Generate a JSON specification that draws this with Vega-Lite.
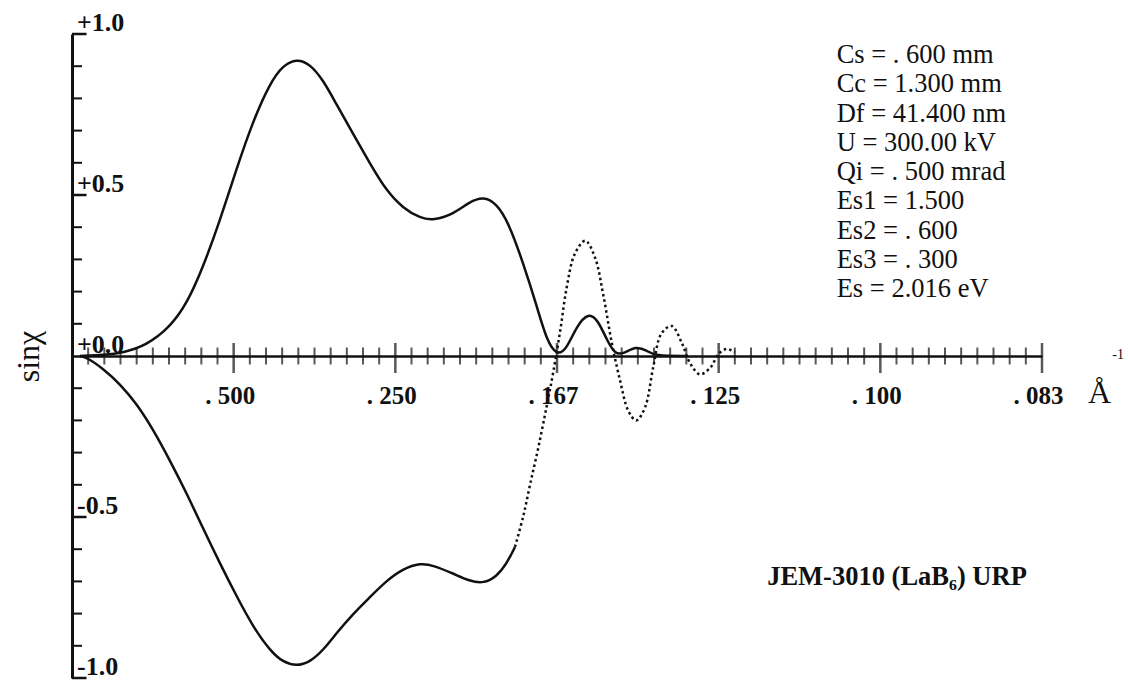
{
  "$schema": "https://vega.github.io/schema/vega-lite/v6.json",
  "width": 970,
  "height": 644,
  "autosize": "none",
  "padding": {"left": 72, "top": 34, "right": 86, "bottom": 2},
  "background": "white",
  "config": {"view": {"stroke": null}, "font": "Liberation Serif"},
  "datasets": {
    "minorX": [
      {"f": 0.2}, {"f": 0.4}, {"f": 0.6}, {"f": 0.8}, {"f": 1.0}, {"f": 1.2}, {"f": 1.4}, {"f": 1.6}, {"f": 1.8},
      {"f": 2.2}, {"f": 2.4}, {"f": 2.6}, {"f": 2.8}, {"f": 3.0}, {"f": 3.2}, {"f": 3.4}, {"f": 3.6}, {"f": 3.8},
      {"f": 4.2}, {"f": 4.4}, {"f": 4.6}, {"f": 4.8}, {"f": 5.0}, {"f": 5.2}, {"f": 5.4}, {"f": 5.6}, {"f": 5.8},
      {"f": 6.2}, {"f": 6.4}, {"f": 6.6}, {"f": 6.8}, {"f": 7.0}, {"f": 7.2}, {"f": 7.4}, {"f": 7.6}, {"f": 7.8},
      {"f": 8.2}, {"f": 8.4}, {"f": 8.6}, {"f": 8.8}, {"f": 9.0}, {"f": 9.2}, {"f": 9.4}, {"f": 9.6}, {"f": 9.8},
      {"f": 10.2}, {"f": 10.4}, {"f": 10.6}, {"f": 10.8}, {"f": 11.0}, {"f": 11.2}, {"f": 11.4}, {"f": 11.6}, {"f": 11.8}
    ],
    "majorX": [{"f": 2}, {"f": 4}, {"f": 6}, {"f": 8}, {"f": 10}, {"f": 12}],
    "minorY": [
      {"v": -0.9}, {"v": -0.8}, {"v": -0.7}, {"v": -0.6}, {"v": -0.4}, {"v": -0.3}, {"v": -0.2}, {"v": -0.1},
      {"v": 0.1}, {"v": 0.2}, {"v": 0.3}, {"v": 0.4}, {"v": 0.6}, {"v": 0.7}, {"v": 0.8}, {"v": 0.9}
    ],
    "majorY": [{"v": -1.0}, {"v": -0.5}, {"v": 0.5}, {"v": 1.0}],
    "upper": [
      {"f": 0.10, "v": 0.0}, {"f": 0.40, "v": 0.003}, {"f": 0.63, "v": 0.01}, {"f": 0.92, "v": 0.033},
      {"f": 1.21, "v": 0.089}, {"f": 1.42, "v": 0.162}, {"f": 1.62, "v": 0.275}, {"f": 1.83, "v": 0.42},
      {"f": 2.04, "v": 0.585}, {"f": 2.24, "v": 0.73}, {"f": 2.45, "v": 0.848}, {"f": 2.61, "v": 0.903},
      {"f": 2.78, "v": 0.923}, {"f": 2.94, "v": 0.908}, {"f": 3.11, "v": 0.856}, {"f": 3.27, "v": 0.782},
      {"f": 3.48, "v": 0.689}, {"f": 3.69, "v": 0.596}, {"f": 3.89, "v": 0.513}, {"f": 4.10, "v": 0.458},
      {"f": 4.31, "v": 0.428}, {"f": 4.47, "v": 0.421}, {"f": 4.72, "v": 0.441}, {"f": 4.92, "v": 0.479},
      {"f": 5.09, "v": 0.495}, {"f": 5.25, "v": 0.474}, {"f": 5.40, "v": 0.415}, {"f": 5.58, "v": 0.29},
      {"f": 5.75, "v": 0.155}, {"f": 5.87, "v": 0.05}, {"f": 6.0, "v": 0.0}, {"f": 6.12, "v": 0.022},
      {"f": 6.24, "v": 0.092}, {"f": 6.39, "v": 0.136}, {"f": 6.51, "v": 0.11}, {"f": 6.62, "v": 0.048},
      {"f": 6.72, "v": 0.005}, {"f": 6.82, "v": 0.007}, {"f": 6.98, "v": 0.031}, {"f": 7.11, "v": 0.017},
      {"f": 7.21, "v": 0.0}, {"f": 7.6, "v": 0.0}
    ],
    "lower": [
      {"f": 0.10, "v": 0.0}, {"f": 0.18, "v": -0.004}, {"f": 0.39, "v": -0.04}, {"f": 0.59, "v": -0.086},
      {"f": 0.80, "v": -0.148}, {"f": 1.01, "v": -0.231}, {"f": 1.21, "v": -0.324}, {"f": 1.42, "v": -0.427},
      {"f": 1.62, "v": -0.535}, {"f": 1.83, "v": -0.644}, {"f": 2.04, "v": -0.748}, {"f": 2.24, "v": -0.841},
      {"f": 2.45, "v": -0.915}, {"f": 2.61, "v": -0.951}, {"f": 2.78, "v": -0.963}, {"f": 2.94, "v": -0.951},
      {"f": 3.11, "v": -0.913}, {"f": 3.27, "v": -0.861}, {"f": 3.48, "v": -0.80}, {"f": 3.69, "v": -0.748},
      {"f": 3.89, "v": -0.698}, {"f": 4.10, "v": -0.66}, {"f": 4.31, "v": -0.643}, {"f": 4.47, "v": -0.65},
      {"f": 4.72, "v": -0.676}, {"f": 4.92, "v": -0.699}, {"f": 5.09, "v": -0.706}, {"f": 5.25, "v": -0.686},
      {"f": 5.38, "v": -0.644}, {"f": 5.48, "v": -0.593}
    ],
    "dotted": [
      {"f": 5.48, "v": -0.593}, {"f": 5.58, "v": -0.50}, {"f": 5.67, "v": -0.396}, {"f": 5.77, "v": -0.283},
      {"f": 5.87, "v": -0.159}, {"f": 5.95, "v": -0.055}, {"f": 6.04, "v": 0.079}, {"f": 6.12, "v": 0.213},
      {"f": 6.22, "v": 0.317}, {"f": 6.35, "v": 0.358}, {"f": 6.47, "v": 0.306}, {"f": 6.57, "v": 0.193},
      {"f": 6.68, "v": 0.038}, {"f": 6.78, "v": -0.076}, {"f": 6.88, "v": -0.169}, {"f": 6.98, "v": -0.2},
      {"f": 7.09, "v": -0.159}, {"f": 7.19, "v": -0.035}, {"f": 7.29, "v": 0.069}, {"f": 7.42, "v": 0.093},
      {"f": 7.54, "v": 0.043}, {"f": 7.65, "v": -0.024}, {"f": 7.77, "v": -0.057}, {"f": 7.90, "v": -0.035},
      {"f": 8.00, "v": 0.007}, {"f": 8.10, "v": 0.022}, {"f": 8.20, "v": 0.012}
    ],
    "ylabels": [
      {"v": 1.0, "t": "+1.0"}, {"v": 0.5, "t": "+0.5"}, {"v": 0.0, "t": "+0.0"},
      {"v": -0.5, "t": "-0.5"}, {"v": -1.0, "t": "-1.0"}
    ]
  },
  "layer": [
    {
      "data": {"name": "minorX"},
      "mark": {"type": "tick", "orient": "vertical", "size": 17, "thickness": 2, "color": "#111"},
      "encoding": {
        "x": {
          "field": "f", "type": "quantitative",
          "scale": {"domain": [0, 12], "nice": false, "zero": false},
          "axis": {
            "orient": "bottom", "offset": -322, "values": [2, 4, 6, 8, 10, 12],
            "ticks": false, "grid": false, "domain": true, "domainWidth": 2.5, "domainColor": "#111",
            "labelExpr": "'. ' + substring(format(1/datum.value, '.3f'), 2, 5)",
            "labelFont": "Liberation Serif", "labelFontSize": 25, "labelFontWeight": "bold",
            "labelColor": "#111", "labelBaseline": "alphabetic", "labelPadding": 47, "labelOffset": -4,
            "labelFlush": false, "labelOverlap": false, "title": null
          }
        },
        "y": {
          "datum": 0, "type": "quantitative",
          "scale": {"domain": [-1, 1], "nice": false, "zero": false},
          "axis": {
            "orient": "left", "values": [0],
            "labels": false, "ticks": false, "grid": false, "domainWidth": 3, "domainColor": "#111",
            "title": "sinχ", "titleFont": "Liberation Serif", "titleFontSize": 32, "titleFontWeight": "normal",
            "titleColor": "#111", "titleX": -34, "titleY": 322, "titleAngle": -90,
            "titleBaseline": "alphabetic", "titleAlign": "center"
          }
        }
      }
    },
    {
      "data": {"name": "majorX"},
      "mark": {"type": "tick", "orient": "vertical", "size": 30, "thickness": 2.5, "yOffset": 2, "color": "#111"},
      "encoding": {
        "x": {"field": "f", "type": "quantitative"},
        "y": {"datum": 0, "type": "quantitative"}
      }
    },
    {
      "data": {"name": "minorY"},
      "mark": {"type": "rule", "strokeWidth": 2, "color": "#111"},
      "encoding": {
        "x": {"datum": 0, "type": "quantitative"},
        "x2": {"datum": 0.124},
        "y": {"field": "v", "type": "quantitative"}
      }
    },
    {
      "data": {"name": "majorY"},
      "mark": {"type": "rule", "strokeWidth": 2.5, "color": "#111"},
      "encoding": {
        "x": {"datum": 0, "type": "quantitative"},
        "x2": {"datum": 0.18},
        "y": {"field": "v", "type": "quantitative"}
      }
    },
    {
      "data": {"name": "upper"},
      "mark": {"type": "line", "interpolate": "basis", "strokeWidth": 2.5, "color": "#111"},
      "encoding": {
        "x": {"field": "f", "type": "quantitative"},
        "y": {"field": "v", "type": "quantitative"}
      }
    },
    {
      "data": {"name": "lower"},
      "mark": {"type": "line", "interpolate": "basis", "strokeWidth": 2.5, "color": "#111"},
      "encoding": {
        "x": {"field": "f", "type": "quantitative"},
        "y": {"field": "v", "type": "quantitative"}
      }
    },
    {
      "data": {"name": "dotted"},
      "mark": {"type": "line", "interpolate": "catmull-rom", "strokeWidth": 2.5, "strokeDash": [2.5, 3], "color": "#111"},
      "encoding": {
        "x": {"field": "f", "type": "quantitative"},
        "y": {"field": "v", "type": "quantitative"}
      }
    },
    {
      "data": {"name": "ylabels"},
      "mark": {"type": "text", "align": "left", "baseline": "alphabetic", "dx": 5, "dy": -3, "font": "Liberation Serif", "fontSize": 26, "fontWeight": "bold", "color": "#111"},
      "encoding": {
        "x": {"datum": 0, "type": "quantitative"},
        "y": {"field": "v", "type": "quantitative"},
        "text": {"field": "t"}
      }
    },
    {
      "data": {"values": [{}]},
      "mark": {
        "type": "text", "align": "left", "baseline": "alphabetic", "lineHeight": 29.3,
        "font": "Liberation Serif", "fontSize": 26.5, "color": "#111",
        "text": ["Cs = . 600 mm", "Cc = 1.300 mm", "Df = 41.400 nm", "U = 300.00 kV", "Qi = . 500 mrad", "Es1 = 1.500", "Es2 = . 600", "Es3 = . 300", "Es = 2.016 eV"]
      },
      "encoding": {
        "x": {"datum": 9.46, "type": "quantitative"},
        "y": {"datum": 0.91, "type": "quantitative"}
      }
    },
    {
      "data": {"values": [{}]},
      "mark": {"type": "text", "align": "left", "baseline": "alphabetic", "font": "Liberation Serif", "fontSize": 26.5, "fontWeight": "bold", "color": "#111", "text": "JEM-3010 (LaB₆) URP"},
      "encoding": {
        "x": {"datum": 8.6, "type": "quantitative"},
        "y": {"datum": -0.711, "type": "quantitative"}
      }
    },
    {
      "data": {"values": [{}]},
      "mark": {"type": "text", "align": "left", "baseline": "alphabetic", "font": "Liberation Serif", "fontSize": 32, "color": "#111", "text": "Å"},
      "encoding": {
        "x": {"datum": 12.57, "type": "quantitative"},
        "y": {"datum": -0.145, "type": "quantitative"}
      }
    },
    {
      "data": {"values": [{}]},
      "mark": {"type": "text", "align": "left", "baseline": "alphabetic", "font": "Liberation Serif", "fontSize": 14, "color": "#111", "text": "-1"},
      "encoding": {
        "x": {"datum": 12.87, "type": "quantitative"},
        "y": {"datum": -0.01, "type": "quantitative"}
      }
    }
  ]
}
